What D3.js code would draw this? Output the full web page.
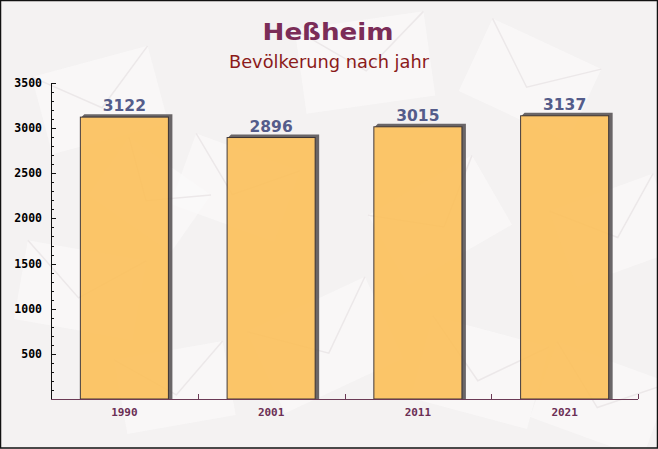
<!DOCTYPE html>
<html><head><meta charset="utf-8">
<script src="https://cdn.jsdelivr.net/npm/d3@7"></script>
<style>html,body{margin:0;padding:0;background:#f3f1f1;}svg{display:block;}</style>
</head><body>
<script>
const categories = ["1990", "2001", "2011", "2021"];
const values = [3122, 2896, 3015, 3137];
const yTicks = [500, 1000, 1500, 2000, 2500, 3000, 3500];
const titleText = "Heßheim";
const subtitleText = "Bevölkerung nach jahr";

const W = 658, H = 449;
const svg = d3.select("body").append("svg").attr("width", W).attr("height", H);

// background
svg.append("rect").attr("width", W).attr("height", H).attr("fill", "#f4f2f2");
const deco = [
  [40,60,120,80,-15],[180,150,110,75,20],[300,20,130,85,-8],[470,40,120,80,25],
  [560,190,110,80,-20],[20,250,120,80,10],[260,300,130,90,-25],[420,330,120,85,15],
  [120,350,110,75,-10],[540,360,120,80,20],[380,180,120,80,-30],[100,160,100,70,35]
];
const dg = svg.append("g");
deco.forEach(([x,y,w,h,r]) => {
  const g = dg.append("g").attr("transform", `translate(${x+w/2},${y+h/2}) rotate(${r})`);
  g.append("rect").attr("x",-w/2).attr("y",-h/2).attr("width",w).attr("height",h)
    .attr("fill","#fbfafa").attr("opacity",0.7);
  g.append("path").attr("d",`M${-w/2},${-h/2}L0,${h*0.1}L${w/2},${-h/2}`)
    .attr("fill","none").attr("stroke","#ece8e9").attr("stroke-width",1.5);
});

const x0 = 51, x1 = 638, yBase = 399, yTop = 83;

const x = d3.scaleBand().domain(categories).range([x0, x1]).paddingInner(0.4).paddingOuter(0.2);
const xb = d3.scaleBand().domain(categories).range([x0, x1]);
const y = d3.scaleLinear().domain([0, 3500]).range([yBase, yTop]);

// bars
const bars = svg.append("g");
categories.forEach((c, i) => {
  const bx = x(c), bw = x.bandwidth(), by = y(values[i]);
  bars.append("path")
    .attr("d", `M${bx+1},${by}L${bx+4},${by-3}L${bx+bw+4},${by-3}L${bx+bw+4},${yBase}L${bx+bw},${yBase}L${bx+bw},${by}Z`)
    .attr("fill", "#5a5558").attr("opacity", 0.9);
  bars.append("rect").attr("x", bx).attr("y", by).attr("width", bw).attr("height", yBase - by)
    .attr("fill", "#fcbf56").attr("opacity", 0.88)
    .attr("stroke", "#2a2020").attr("stroke-width", 1);
  bars.append("text").attr("x", bx + bw/2).attr("y", by - 6)
    .attr("text-anchor", "middle")
    .attr("font-family", "DejaVu Sans").attr("font-weight", "bold").attr("font-size", 15.5)
    .attr("fill", "#545c8a").text(values[i]);
});

// y axis
const ya = svg.append("g");
ya.append("line").attr("x1", x0+0.5).attr("x2", x0+0.5).attr("y1", yTop).attr("y2", yBase).attr("stroke", "#111");
d3.range(100, 3501, 100).forEach(v => {
  const major = v % 500 === 0;
  ya.append("line").attr("x1", x0).attr("x2", x0 + (major ? 5 : 3))
    .attr("y1", Math.round(y(v)) + 0.5).attr("y2", Math.round(y(v)) + 0.5).attr("stroke", "#111");
});
yTicks.forEach(v => {
  ya.append("text").attr("x", 42).attr("y", y(v) + 4).attr("text-anchor", "end")
    .attr("font-family", "DejaVu Sans Mono").attr("font-weight", "bold").attr("font-size", 11.5)
    .attr("fill", "#000").text(v);
});

// x axis
const xa = svg.append("g");
xa.append("line").attr("x1", x0).attr("x2", x1).attr("y1", yBase + 0.5).attr("y2", yBase + 0.5).attr("stroke", "#6b3a55");
categories.forEach((c, i) => {
  const tx = Math.round(xb(c) + xb.bandwidth()) + 0.5;
  xa.append("line").attr("x1", tx).attr("x2", tx).attr("y1", yBase).attr("y2", yBase - 5).attr("stroke", "#6b3a55");
  xa.append("text").attr("x", x(c) + x.bandwidth()/2).attr("y", 416).attr("text-anchor", "middle")
    .attr("font-family", "DejaVu Sans Mono").attr("font-weight", "bold").attr("font-size", 11)
    .attr("fill", "#6b2f55").text(c);
});

// titles
svg.append("text").attr("x", 328).attr("y", 39.5).attr("text-anchor", "middle")
  .attr("font-family", "DejaVu Sans").attr("font-weight", "bold").attr("font-size", 22.5)
  .attr("textLength", 131).attr("lengthAdjust", "spacingAndGlyphs")
  .attr("fill", "#7b2d58").text(titleText);
svg.append("text").attr("x", 329).attr("y", 67.5).attr("text-anchor", "middle")
  .attr("font-family", "DejaVu Sans").attr("font-size", 17.5)
  .attr("textLength", 200).attr("lengthAdjust", "spacingAndGlyphs")
  .attr("fill", "#8b1a1a").text(subtitleText);

// border
svg.append("rect").attr("x", 0.5).attr("y", 0.5).attr("width", W-1).attr("height", H-1.5)
  .attr("fill", "none").attr("stroke", "#111").attr("stroke-width", 1.5);
</script>
</body></html>
